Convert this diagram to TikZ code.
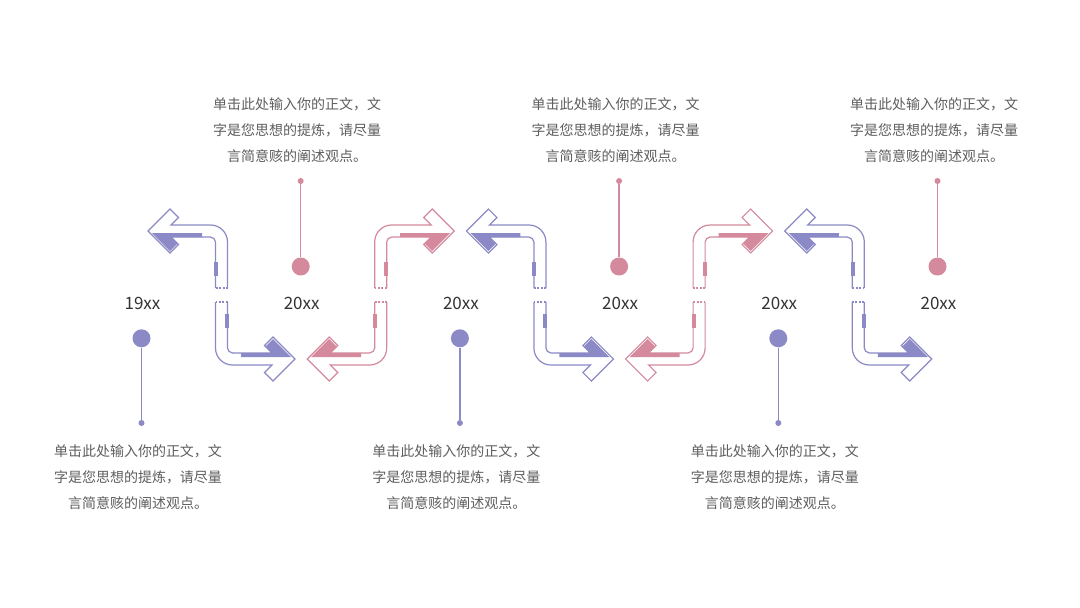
\documentclass[tikz,border=0pt]{standalone}
\usepackage{fontspec}
\setmainfont{Noto Sans CJK SC}
\definecolor{pur}{HTML}{8B89C6}
\definecolor{pnk}{HTML}{D4899D}
\definecolor{txt}{HTML}{5E5E5E}
\definecolor{yr}{HTML}{333333}
\newcommand{\myhalfarrow}[1]{%
  \fill[#1] (-69.5,-62) -- (-19.5,-62) -- (-19.5,-58) -- (-50.5,-58) -- (-44,-51.5) -- (-51.5,-44) -- cycle;
  \draw[#1, line width=1.2pt, line join=miter]
    (6,-7) -- (6,-53) .. controls (6,-62.39) and (-1.61,-70) .. (-11,-70)
    -- (-50.5,-70) -- (-43,-77.5) -- (-51.5,-86) -- (-73.5,-64) -- (-51.5,-42)
    -- (-43,-50.5) -- (-50.5,-58) -- (-11,-58)
    .. controls (-8.24,-58) and (-6,-55.24) .. (-6,-53) -- (-6,-7);
  \draw[#1, line width=1.2pt, dash pattern=on 2pt off 1.5pt] (-6,-7) -- (6,-7);
  \fill[#1] (-7.5,-33) rectangle (-3.5,-19);
}
\begin{document}
\begin{tikzpicture}[x=1pt,y=-1pt,
  txtblock/.style={font=\fontsize{14}{26}\selectfont, text=txt, align=center, inner sep=0pt},
  yearlbl/.style={font=\fontsize{17}{17}\selectfont, text=yr, inner sep=0pt},
  pinhead/.style={circle, fill=#1, minimum size=18pt, inner sep=0pt},
  pindot/.style={circle, fill=#1, minimum size=6pt, inner sep=0pt},
  pinline/.style={draw=#1, line width=1.5pt}]
\useasboundingbox (0,0) rectangle (1080,608);
\fill[white] (0,0) rectangle (1080,608);
% arrow icons
\foreach \k in {0,2,4} {
  \begin{scope}[shift={(221.5+159.2*\k,295)}]
    \myhalfarrow{pur}
    \begin{scope}[scale=-1]\myhalfarrow{pur}\end{scope}
  \end{scope}
}
\foreach \k in {1,3} {
  \begin{scope}[shift={(221.5+159.2*\k,295)},xscale=-1]
    \myhalfarrow{pnk}
    \begin{scope}[scale=-1]\myhalfarrow{pnk}\end{scope}
  \end{scope}
}
% pins, years, texts
\foreach \k in {0,...,5} {
  \pgfmathsetmacro\px{141.5+159.2*\k}
  \ifodd\k
    \node[pinhead=pnk] (ph\k) at (\px,266.5) {};
    \node[pindot=pnk] (pd\k) at (\px,181) {};
    \draw[pinline=pnk] (ph\k) -- (pd\k);
    \node[txtblock] (tx\k) at (\px-3.5,130) {单击此处输入你的正文，文\\字是您思想的提炼，请尽量\\言简意赅的阐述观点。};
  \else
    \node[pinhead=pur] (ph\k) at (\px,338.3) {};
    \node[pindot=pur] (pd\k) at (\px,423) {};
    \draw[pinline=pur] (ph\k) -- (pd\k);
    \node[txtblock] (tx\k) at (\px-3.5,477) {单击此处输入你的正文，文\\字是您思想的提炼，请尽量\\言简意赅的阐述观点。};
  \fi
  \node[yearlbl] (yr\k) at (\px+1,303) {\ifnum\k=0 19xx\else 20xx\fi};
}
\end{tikzpicture}
\end{document}
